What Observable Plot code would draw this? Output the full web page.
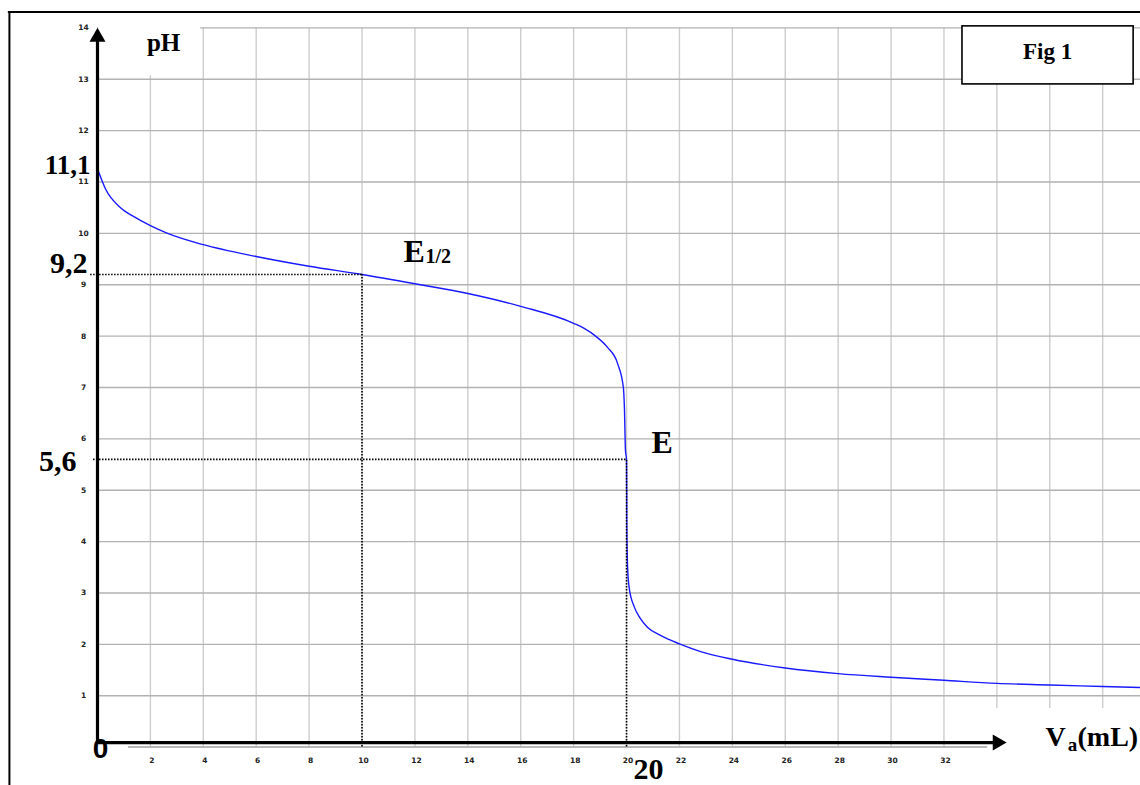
<!DOCTYPE html>
<html>
<head>
<meta charset="utf-8">
<script src="https://cdn.jsdelivr.net/npm/d3@7"></script>
<script src="https://cdn.jsdelivr.net/npm/@observablehq/plot@0.6"></script>
<style>
  html, body { margin: 0; padding: 0; background: #fff; }
  #chart svg { display: block; }
</style>
</head>
<body>
<div id="chart"></div>
<script>
// ---- data ----
const volume   = [0, 0.3, 0.87, 1.36, 2, 2.65, 4, 6, 8, 10, 12, 14, 16, 18, 18.4, 18.83, 19.28, 19.66, 19.88, 19.92, 19.96, 20, 20.01, 20.04, 20.1, 20.3, 20.5, 20.8, 21.3, 22, 22.8, 24, 26, 28, 30, 32, 34, 36, 38, 39.43];
const pHValues = [11.26, 10.87, 10.5, 10.33, 10.15, 10.0, 9.78, 9.55, 9.36, 9.2, 9.02, 8.83, 8.58, 8.25, 8.15, 8.0, 7.78, 7.47, 7.0, 6.6, 5.77, 5.6, 4.35, 3.5, 3.1, 2.72, 2.52, 2.33, 2.17, 2.01, 1.86, 1.71, 1.54, 1.43, 1.36, 1.3, 1.24, 1.21, 1.18, 1.16];
const xTickLabels = [2, 4, 6, 8, 10, 12, 14, 16, 18, 20, 22, 24, 26, 28, 30, 32];
const yTickLabels = [1, 2, 3, 4, 5, 6, 7, 8, 9, 10, 11, 12, 13, 14];
const gridVolumes = [2, 4, 6, 8, 10, 12, 14, 16, 18, 20, 22, 24, 26, 28, 30, 32, 34, 36, 38];
const gridPH = [1, 2, 3, 4, 5, 6, 7, 8, 9, 10, 11, 12, 13, 14];
const halfEquivalence = [{volume: 10, pH: 9.2}];
const equivalence = [{volume: 20, pH: 5.6}];

const curve = volume.map((v, i) => ({volume: v, pH: pHValues[i]}));

const serif = "'Liberation Serif', 'Times New Roman', serif";
const sans = "'Liberation Sans', Arial, sans-serif";
const tickFont = "'DejaVu Sans', sans-serif";

function label(text, x, y, size, anchor, family = serif) {
  return Plot.text([text], {
    x: () => x, y: () => y, text: d => d,
    fontSize: size, fontWeight: "bold", fontFamily: family,
    textAnchor: anchor, lineAnchor: "bottom", fill: "#000"
  });
}

const chart = Plot.plot({
  width: 1140,
  height: 785,
  marginLeft: 97,
  marginRight: 0,
  marginTop: 27.4,
  marginBottom: 38.4,
  x: {domain: [0, 39.43], axis: null},
  y: {domain: [0, 14], axis: null},
  style: {background: "#fff", overflow: "visible"},
  marks: [
    // grid
    Plot.ruleX(gridVolumes, {x: d => d, y1: 0, y2: 14, stroke: "#cdcdcd", strokeWidth: 1.4}),
    Plot.ruleY(gridPH, {y: d => d, x1: 0, x2: 39.43, stroke: "#b2b2b2", strokeWidth: 1.4}),
    // white patches behind labels
    Plot.rect([0], {x1: 0.05, x2: 3.9, y1: 13.07, y2: 14.35, fill: "#fff"}),
    Plot.rect([0], {x1: 32.3, x2: 39.5, y1: -0.8, y2: 0.75, fill: "#fff"}),
    // faint grey base line
    Plot.ruleY([0], {x1: 1.17, x2: 33.65, stroke: "#a0a0a0", strokeWidth: 1.5}),
    // titration curve
    Plot.line(curve, {x: "volume", y: "pH", stroke: "#1a1aff", strokeWidth: 1.4, curve: "monotone-x"}),
    // dotted construction lines
    Plot.ruleY(halfEquivalence, {y: "pH", x1: -0.26, x2: "volume", stroke: "#000", strokeWidth: 1.6, strokeDasharray: "1.5,1.5"}),
    Plot.ruleX(halfEquivalence, {x: "volume", y1: 0, y2: "pH", stroke: "#000", strokeWidth: 1.6, strokeDasharray: "1.5,1.5"}),
    Plot.ruleY(equivalence, {y: "pH", x1: -0.15, x2: "volume", stroke: "#000", strokeWidth: 1.6, strokeDasharray: "1.5,1.5"}),
    Plot.ruleX(equivalence, {x: "volume", y1: 0, y2: "pH", stroke: "#000", strokeWidth: 1.6, strokeDasharray: "1.5,1.5"}),
    // axes with arrows
    Plot.ruleX([0], {x: d => d, y1: 0.07, y2: 13.75, stroke: "#000", strokeWidth: 3.2}),
    Plot.dot([14], {x: () => 0, y: d => d, dy: 9.2, symbol: "triangle", r: 5.94, fill: "#000", stroke: "none"}),
    Plot.ruleY([0], {y: d => d, dy: -4.5, x1: 0, x2: 34.1, stroke: "#000", strokeWidth: 3.2}),
    Plot.dot([34.02], {x: d => d, y: () => 0, dy: -4.5, symbol: "triangle", rotate: 90, r: 5.94, fill: "#000", stroke: "none"}),
    // tick labels
    Plot.text(yTickLabels, {x: () => 0, y: d => d, text: d => String(d), dx: -14, fontSize: 7.5, fontWeight: "bold", fontFamily: tickFont, fill: "#222", textAnchor: "middle"}),
    Plot.text(xTickLabels, {x: d => d, y: () => 0, text: d => String(d), dy: 13.5, dx: 1.5, fontSize: 7.5, fontWeight: "bold", fontFamily: tickFont, fill: "#222", textAnchor: "middle"}),
    // outer frame (top & left)
    Plot.ruleX([-3.33], {x: d => d, y1: -0.8, y2: 14.31, stroke: "#000", strokeWidth: 2}),
    Plot.ruleY([14.31], {y: d => d, x1: -3.37, x2: 39.5, stroke: "#000", strokeWidth: 2}),
    // annotations
    label("pH", 2.5, 13.56, 25, "middle"),
    label("11,1", -0.26, 11.15, 27, "end"),
    label("9,2", -0.38, 9.22, 30, "end"),
    label("5,6", -0.79, 5.38, 30, "end"),
    label("0", 0.11, -0.22, 28, "middle", sans),
    label("E", 11.57, 9.45, 32, "start"),
    label("1/2", 12.4, 9.43, 20, "start"),
    label("E", 20.94, 5.73, 32, "start"),
    label("20", 20.26, -0.62, 30, "start"),
    label("V", 35.84, 0.03, 28, "start"),
    label("a", 36.68, -0.07, 19, "start"),
    label("(mL)", 37.05, 0.03, 28, "start"),
    // legend box
    Plot.rect([0], {x1: 32.7, x2: 39.17, y1: 12.9, y2: 14.03, fill: "#fff", stroke: "#000", strokeWidth: 1.6}),
    label("Fig 1", 35.92, 13.39, 23, "middle")
  ]
});

document.getElementById("chart").appendChild(chart);
</script>
</body>
</html>
